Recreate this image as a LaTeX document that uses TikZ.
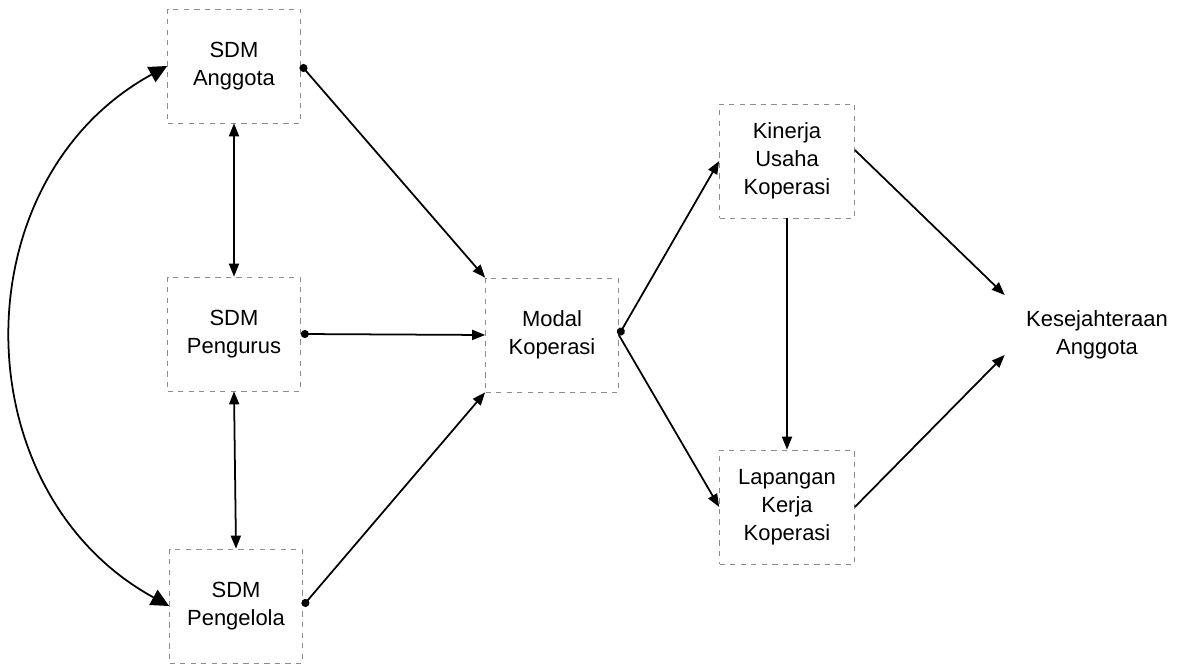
\documentclass[tikz,border=0pt]{standalone}
\usepackage{fontspec}
\setmainfont{Liberation Sans}
\usepackage{tikz}
\usetikzlibrary{arrows.meta}
\definecolor{bordegris}{rgb}{0.55,0.55,0.55}
\tikzset{
  caja/.style={
    draw=bordegris,
    dashed,
    line width=.4pt,
    align=center,
    minimum width=2.66cm,
    minimum height=2.28cm,
    inner sep=3pt,
    font=\fontsize{12.5}{16}\selectfont
  },
  libre/.style={
    align=center,
    text width=3.68cm,
    inner sep=0pt,
    font=\fontsize{12.5}{16}\selectfont
  },
  arrow/.style={
    -{Triangle[length=2.6mm,width=2mm]},
    line width=1pt,
    black
  },
  doble/.style={
    {Triangle[length=2.6mm,width=2mm]}-{Triangle[length=2.6mm,width=2mm]},
    line width=1pt,
    black
  },
  curva/.style={
    {Triangle[length=3.6mm,width=3.4mm]}-{Triangle[length=3.6mm,width=3.4mm]},
    line width=1pt,
    black
  },
  punto/.style={
    {Circle[length=1.6mm]}-{Triangle[length=2.6mm,width=2mm]},
    line width=1pt,
    black
  }
}

\begin{document}
\begin{tikzpicture}[x=0.02cm,y=-0.02cm]
\useasboundingbox (0,0) rectangle (1183,665);
\node[caja] (anggota) at (234,66) {SDM\\Anggota};
\node[caja] (pengurus) at (234,334) {SDM\\Pengurus};
\node[caja] (pengelola) at (236,606) {SDM\\Pengelola};
\node[caja] (modal) at (552,335) {Modal\\Koperasi};
\node[caja, minimum width=2.7cm] (kinerja) at (787,161) {Kinerja\\Usaha\\Koperasi};
\node[caja, minimum width=2.7cm] (lapangan) at (787,507) {Lapangan\\Kerja\\Koperasi};
\node[libre] (kes) at (1097,335) {Kesejahteraan\\Anggota};
% lado izquierdo
\draw[curva] (anggota.west) .. controls +(-208,114) and +(-208,-114) .. (pengelola.west);
\draw[doble] (anggota.south) -- (pengurus.north);
\draw[doble] (pengurus.south) -- (pengelola.north);
% hacia el modal
\draw[punto] ([yshift=0.02cm]anggota.east) -- (modal.north west);
\draw[punto] (pengurus.east) -- (modal.west);
\draw[punto] (pengelola.east) -- (modal.south west);
% lado derecho
\draw[punto] (modal.east) -- (kinerja.west);
\draw[arrow] (modal.east) -- (lapangan.west);
\draw[arrow] (kinerja.south) -- (lapangan.north);
\draw[arrow] ([yshift=0.22cm]kinerja.east) -- ([yshift=0.8cm]kes.west);
\draw[arrow] (lapangan.east) -- ([yshift=-0.4cm]kes.west);
\end{tikzpicture}
\end{document}
